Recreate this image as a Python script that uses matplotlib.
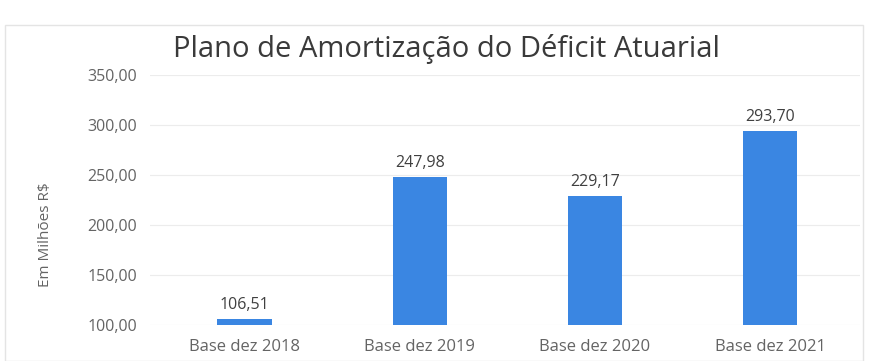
import matplotlib
matplotlib.use("Agg")
import matplotlib.pyplot as plt
from matplotlib.patches import Rectangle

categories = ["Base dez 2018", "Base dez 2019", "Base dez 2020", "Base dez 2021"]
values = [106.51, 247.98, 229.17, 293.70]
yticks = [100, 150, 200, 250, 300, 350]

BAR = "#3a86e2"
GREY = "#646464"


def fmt(v):
    return f"{v:.2f}".replace(".", ",")


plt.rcParams["font.family"] = ["Open Sans", "DejaVu Sans"]

fig = plt.figure(figsize=(8.71, 3.61), dpi=100)
ax = fig.add_axes([0.172, 0.0997, 0.815, 0.692])

x = range(len(categories))
ax.bar(x, values, width=0.31, color=BAR, zorder=2)
for i, v in enumerate(values):
    ax.text(i, v + 6, fmt(v), ha="center", va="bottom",
            fontsize=11.5, color="#404040")

ax.set_ylim(100, 350)
ax.set_xlim(-0.54, 3.51)
ax.set_yticks(yticks)
ax.set_yticklabels([fmt(t) for t in yticks], fontsize=11.5, color=GREY)
ax.set_xticks(list(x))
ax.set_xticklabels(categories, fontsize=12, color=GREY)
ax.tick_params(length=0, pad=9)
ax.tick_params(axis="x", pad=10)
ax.grid(axis="y", color="#ececec", linewidth=0.8, zorder=0)
for s in ax.spines.values():
    s.set_visible(False)

fig.text(0.052, 0.35, "Em Milhões R$", rotation=90, ha="center", va="center",
         fontsize=11, color=GREY)
fig.text(0.513, 0.864, "Plano de Amortização do Déficit Atuarial",
         ha="center", va="center", fontsize=21, color="#3a3a3a")

# faint chart-area frame
fig.patches.append(Rectangle((0.006, 0.0), 0.985, 0.93, transform=fig.transFigure,
                             fill=False, edgecolor="#e4e4e4", linewidth=1.0))

fig.savefig("out.png", dpi=100)
